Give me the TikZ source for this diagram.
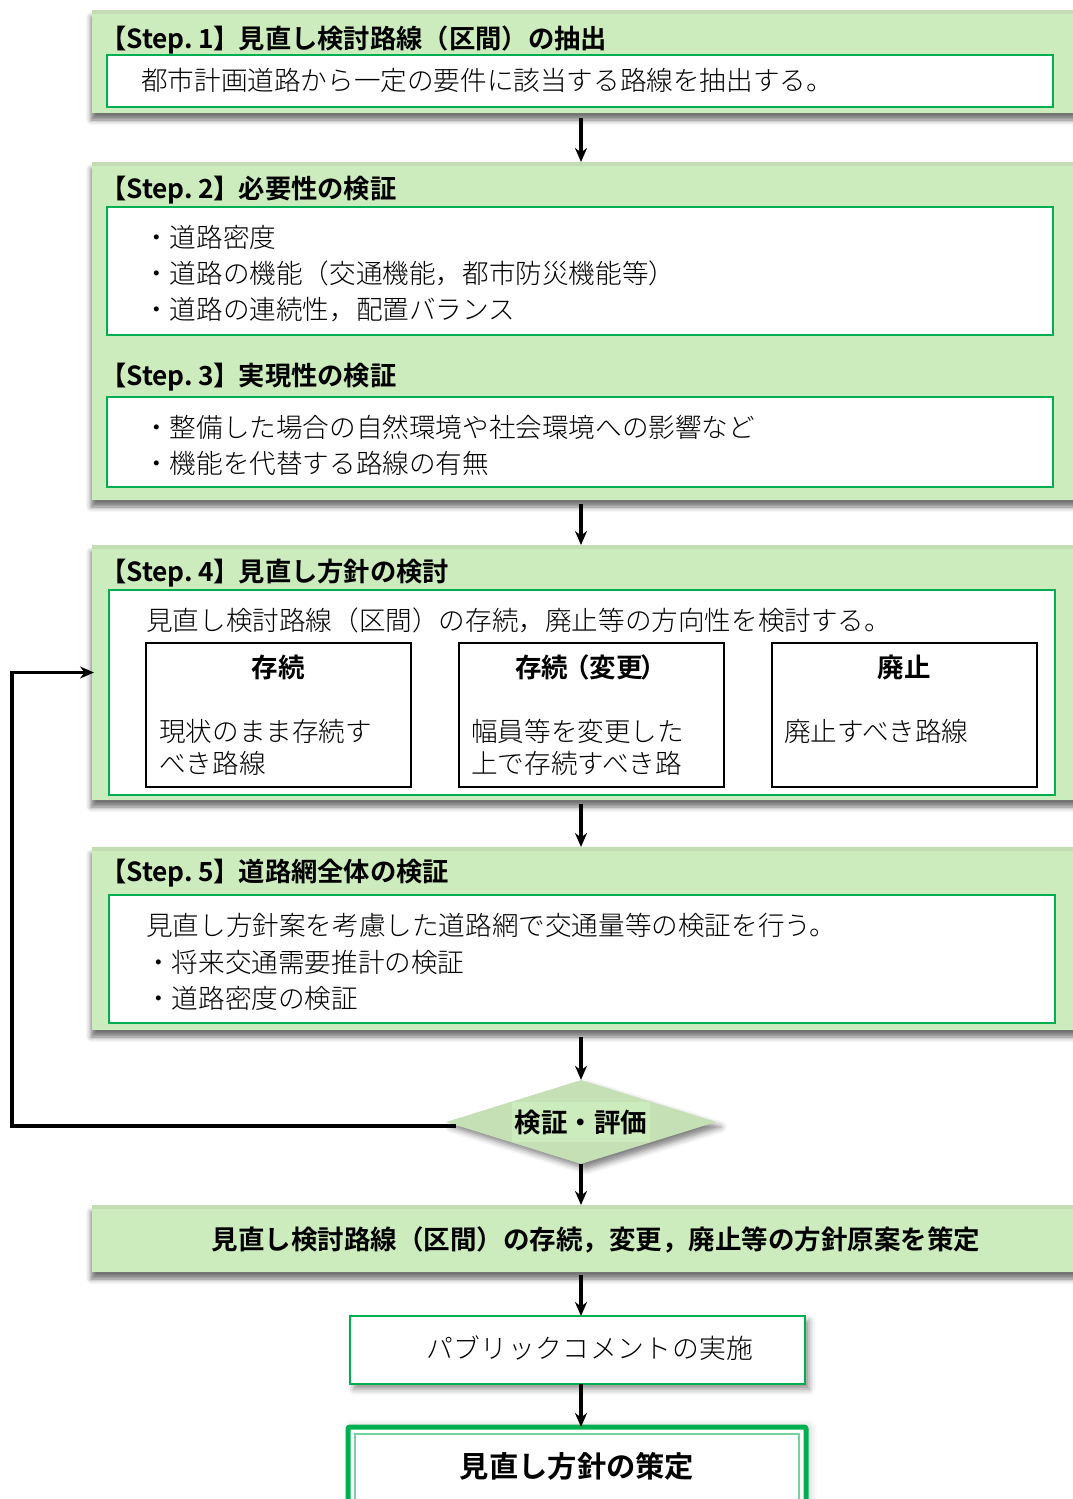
\documentclass[tikz,border=0pt]{standalone}
\usepackage{fontspec}
\setmainfont{Noto Sans CJK JP}[UprightFont={* Light}, BoldFont={* Bold}]
\usetikzlibrary{shapes.geometric,shadows.blur,arrows.meta}
\definecolor{lgreen}{RGB}{205,236,189}
\definecolor{bandgreen}{RGB}{194,221,180}
\definecolor{diagreen}{RGB}{197,224,180}
\definecolor{bgreen}{RGB}{0,176,80}
\newcommand{\stp}[1]{【Step.\hspace{0.22em}#1\kern-1pt】\kern-1pt}
\tikzset{
  outerbox/.style={fill=lgreen, draw=none, inner sep=0pt, outer sep=0pt, anchor=north west,
    blur shadow={shadow xshift=-1pt, shadow yshift=-7pt, shadow blur radius=5pt, shadow opacity=55},
    path picture={\fill[bandgreen] (path picture bounding box.north west) rectangle ([yshift=-4pt]path picture bounding box.north east);}},
  innerbox/.style={fill=white, draw=bgreen, line width=2.6pt, inner sep=0pt, outer sep=0pt, anchor=north west},
  subbox/.style={fill=white, draw=black, line width=1.6pt, inner sep=0pt, outer sep=0pt, anchor=north west},
  head/.style={font=\fontsize{26.3}{30}\selectfont\bfseries, anchor=west, inner sep=0pt},
  body/.style={font=\fontsize{26.6}{30}\selectfont, anchor=west, inner sep=0pt},
  ctext/.style={font=\fontsize{26.5}{30}\selectfont\bfseries, anchor=center, inner sep=0pt},
  arr/.style={-{Stealth[length=14pt,width=12pt]}, line width=3.2pt},
}
\begin{document}
\begin{tikzpicture}[x=1pt,y=-1pt]
\useasboundingbox (0,0) rectangle (1073,1499);

% Step 1
\node[outerbox, minimum width=995pt, minimum height=103pt] (s1) at (92,10) {};
\node[innerbox, minimum width=946pt, minimum height=52pt] (i1) at (107,55) {};
\node[head] (t1) at (100,40) {\stp{1}見直し検討路線（区間）の抽出};
\node[body] (b1) at (141,80) {都市計画道路から一定の要件に該当する路線を抽出する。};

% Step 2 / 3
\node[outerbox, minimum width=995pt, minimum height=338pt] (s23) at (92,162) {};
\node[head] (t2) at (100,190) {\stp{2}必要性の検証};
\node[innerbox, minimum width=946pt, minimum height=128pt] (i2) at (107,207) {};
\node[body] (b21) at (143,237) {・道路密度};
\node[body] (b22) at (143,273) {・道路の機能（交通機能，都市防災機能等）};
\node[body] (b23) at (143,310) {・道路の連続性，配置バランス};
\node[head] (t3) at (100,377) {\stp{3}実現性の検証};
\node[innerbox, minimum width=946pt, minimum height=90pt] (i3) at (107,397) {};
\node[body] (b31) at (143,427) {・整備した場合の自然環境や社会環境への影響など};
\node[body] (b32) at (143,463) {・機能を代替する路線の有無};

% Step 4
\node[outerbox, minimum width=995pt, minimum height=255pt] (s4) at (92,545) {};
\node[head] (t4) at (100,573) {\stp{4}見直し方針の検討};
\node[innerbox, minimum width=946pt, minimum height=205pt] (i4) at (109,590) {};
\node[body] (b4) at (146,620) {見直し検討路線（区間）の存続，廃止等の方向性を検討する。};
\node[subbox, minimum width=265pt, minimum height=144pt] (ka) at (146,643) {};
\node[subbox, minimum width=265pt, minimum height=144pt] (kb) at (459,643) {};
\node[subbox, minimum width=265pt, minimum height=144pt] (kc) at (772,643) {};
\node[ctext] (ka1) at (278,667) {存続};
\node[ctext] (kb1) at (591,667) {存続\kern-5pt（変更\kern-2pt）};
\node[ctext] (kc1) at (904,667) {廃止};
\node[body] (ka2) at (159,731) {現状のまま存続す};
\node[body] (ka3) at (159,763) {べき路線};
\node[body] (kb2) at (471,731) {幅員等を変更した};
\node[body] (kb3) at (471,763) {上で存続すべき路};
\node[body] (kc2) at (784,731) {廃止すべき路線};

% Step 5
\node[outerbox, minimum width=995pt, minimum height=183pt] (s5) at (92,847) {};
\node[head] (t5) at (100,873) {\stp{5}道路網全体の検証};
\node[innerbox, minimum width=946pt, minimum height=128pt] (i5) at (109,895) {};
\node[body] (b51) at (146,925) {見直し方針案を考慮した道路網で交通量等の検証を行う。};
\node[body] (b52) at (145,962) {・将来交通需要推計の検証};
\node[body] (b53) at (145,998) {・道路密度の検証};

% Decision
\node[diamond, fill=diagreen, minimum width=270pt, minimum height=84pt, inner sep=0pt,
  blur shadow={shadow xshift=5pt, shadow yshift=-5pt, shadow blur radius=6pt, shadow opacity=50}] (dia) at (581,1122) {};
\node[ctext, fill=lgreen, minimum width=138pt, minimum height=40pt] (diat) at (581,1122) {検証・評価};

% Draft
\node[outerbox, minimum width=995pt, minimum height=67pt] (s6) at (92,1205) {};
\node[ctext] (t6) at (596,1240) {見直し検討路線（区間）の存続，変更，廃止等の方針原案を策定};

% Public comment
\node[fill=white, draw=bgreen, line width=1.6pt, anchor=north west, inner sep=0pt, outer sep=0pt,
  minimum width=455pt, minimum height=68pt,
  blur shadow={shadow xshift=4pt, shadow yshift=-5pt, shadow blur radius=6pt, shadow opacity=45}] (s7) at (350,1316) {};
\node[body, anchor=center, font=\fontsize{26.8}{30}\selectfont\addfontfeatures{LetterSpace=2}] (t7) at (590,1348) {パブリックコメントの実施};

% Final
\node[fill=white, draw=bgreen, line width=5pt, rounded corners=2pt, anchor=north west, inner sep=0pt, outer sep=0pt,
  minimum width=458pt, minimum height=100pt,
  blur shadow={shadow xshift=3pt, shadow yshift=0pt, shadow blur radius=8pt, shadow opacity=25}] (s8) at (348,1427) {};
\node[draw=bgreen!55, line width=1.2pt, anchor=north west, inner sep=0pt, outer sep=0pt,
  minimum width=444pt, minimum height=90pt] (s8in) at (355,1434) {};
\node[ctext, font=\fontsize{29.3}{32}\selectfont\bfseries] (t8) at (577,1466) {見直し方針の策定};

% Connectors
\draw[arr, shorten <=5pt] (s1.south -| dia.north) -- (s23.north -| dia.north);
\draw[arr, shorten <=4pt] (s23.south -| dia.north) -- (s4.north -| dia.north);
\draw[arr, shorten <=4pt] (s4.south -| dia.north) -- (s5.north -| dia.north);
\draw[arr, shorten <=7pt] (s5.south -| dia.north) -- (dia.north);
\draw[arr] (dia.south) -- (s6.north -| dia.south);
\draw[arr, shorten <=3pt] (s6.south -| dia.south) -- (s7.north -| dia.south);
\draw[arr] (s7.south -| dia.south) -- (s8.north -| dia.south);
\coordinate (fb) at (12,1126);
\draw[arr, shorten >=-2pt] ([xshift=10pt,yshift=-4pt]dia.west) -| (fb) |- (s4.west);
\end{tikzpicture}
\end{document}
